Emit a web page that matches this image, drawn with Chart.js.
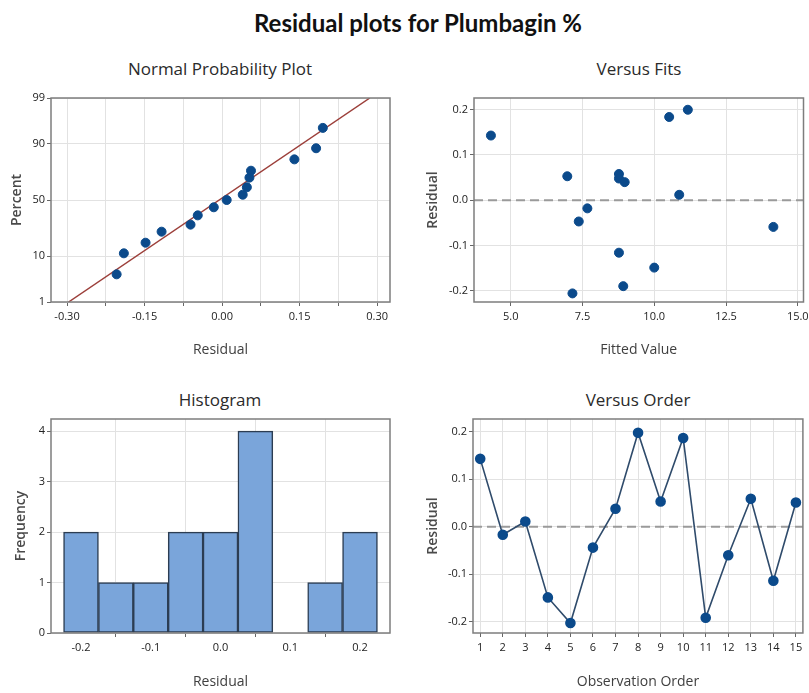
<!DOCTYPE html>
<html><head><meta charset="utf-8">
<script src="https://cdn.jsdelivr.net/npm/chart.js@4"></script>
<style>
body{margin:0;background:#fff;width:809px;height:693px;position:relative;overflow:hidden;font-family:'Open Sans',sans-serif}
canvas{position:absolute}
.t{position:absolute;white-space:nowrap;transform:translateX(-50%);color:#2a2a2a}
#main{left:418px;top:5px;font-family:Lato,sans-serif;font-weight:bold;font-size:24px;line-height:36px;color:#111}
.pt{font-size:17px;line-height:24px}
</style></head><body>
<div id="main" class="t">Residual plots for Plumbagin %</div>
<div class="t pt" style="left:220px;top:57px">Normal Probability Plot</div>
<div class="t pt" style="left:639px;top:57px">Versus Fits</div>
<div class="t pt" style="left:220px;top:388px">Histogram</div>
<div class="t pt" style="left:638px;top:388px">Versus Order</div>
<canvas id="c1" width="400" height="310" style="left:0;top:55px"></canvas>
<canvas id="c2" width="409" height="310" style="left:400px;top:55px"></canvas>
<canvas id="c3" width="400" height="328" style="left:0;top:365px"></canvas>
<canvas id="c4" width="409" height="328" style="left:400px;top:365px"></canvas>
<script>
// ---------- data ----------
const nppResidual = [-0.204,-0.190,-0.148,-0.117,-0.061,-0.047,-0.016,0.009,0.040,0.048,0.053,0.056,0.140,0.182,0.195];
const nppPercent  = [4.5,11.2,16.5,23.5,28.7,36.3,43.4,50.0,54.8,61.4,69.5,74.8,82.3,88.1,95.0];
const fitLineResidual = [-0.297, 0.286];
const fitLinePercent  = [1, 99];
const nppXTicks  = [-0.30,-0.225,-0.15,-0.075,0,0.075,0.15,0.225,0.30];
const nppXLabels = ['-0.30','','-0.15','','0.00','','0.15','','0.30'];
const nppYTickPercent = [1,10,50,90,99];
const nppYLabels = ['1','10','50','90','99'];

const fittedValues = [4.31,6.97,7.37,7.67,8.77,8.77,8.97,8.77,7.15,8.92,10.00,10.52,11.17,10.87,14.15];
const fitsResidual = [0.143,0.053,-0.047,-0.018,0.058,0.048,0.040,-0.116,-0.206,-0.190,-0.149,0.184,0.200,0.012,-0.059];
const fitsXTicks  = [5,7.5,10,12.5,15];
const fitsXLabels = ['5.0','7.5','10.0','12.5','15.0'];
const residTicks  = [-0.2,-0.1,0,0.1,0.2];
const residLabels = ['-0.2','-0.1','0.0','0.1','0.2'];

const histBinCenters = [-0.20,-0.15,-0.10,-0.05,0.00,0.05,0.10,0.15,0.20];
const histCounts     = [2,1,1,2,2,4,0,1,2];
const histXTicks  = [-0.2,-0.1,0,0.1,0.2];
const histXLabels = ['-0.2','-0.1','0.0','0.1','0.2'];
const histYTicks  = [0,1,2,3,4];
const histYLabels = ['0','1','2','3','4'];

const observationOrder = [1,2,3,4,5,6,7,8,9,10,11,12,13,14,15];
const orderResidual = [0.143,-0.017,0.011,-0.149,-0.203,-0.044,0.038,0.198,0.053,0.187,-0.192,-0.060,0.059,-0.114,0.051];
const orderXLabels = ['1','2','3','4','5','6','7','8','9','10','11','12','13','14','15'];

// ---------- helpers ----------
function probit(p){
  const a=[-3.969683028665376e+01,2.209460984245205e+02,-2.759285104469687e+02,1.383577518672690e+02,-3.066479806614716e+01,2.506628277459239e+00];
  const b=[-5.447609879822406e+01,1.615858368580409e+02,-1.556989798598866e+02,6.680131188771972e+01,-1.328068155288572e+01];
  const c=[-7.784894002430293e-03,-3.223964580411365e-01,-2.400758277161838e+00,-2.549732539343734e+00,4.374664141464968e+00,2.938163982698783e+00];
  const d=[7.784695709041462e-03,3.224671290700398e-01,2.445134137142996e+00,3.754408661907416e+00];
  const pl=0.02425; let q,r;
  if(p<pl){q=Math.sqrt(-2*Math.log(p));return (((((c[0]*q+c[1])*q+c[2])*q+c[3])*q+c[4])*q+c[5])/((((d[0]*q+d[1])*q+d[2])*q+d[3])*q+1);}
  if(p<=1-pl){q=p-0.5;r=q*q;return (((((a[0]*r+a[1])*r+a[2])*r+a[3])*r+a[4])*r+a[5])*q/(((((b[0]*r+b[1])*r+b[2])*r+b[3])*r+b[4])*r+1);}
  q=Math.sqrt(-2*Math.log(1-p));return -(((((c[0]*q+c[1])*q+c[2])*q+c[3])*q+c[4])*q+c[5])/((((d[0]*q+d[1])*q+d[2])*q+d[3])*q+1);
}
const pz = pct => probit(pct/100);

Chart.defaults.font.family = "'Open Sans', sans-serif";
Chart.defaults.color = '#333';
Chart.defaults.animation = false;
const GRID = '#e2e2e2', TICKC = '#666', MARK = '#0b4a8b';

const frame = {id:'frame', afterDatasetsDraw(chart){
  const {ctx, chartArea:a} = chart;
  ctx.save(); ctx.strokeStyle='#7d7d7d'; ctx.lineWidth=1.5;
  ctx.strokeRect(a.left, a.top, a.right-a.left, a.bottom-a.top); ctx.restore();
}};
const zeroLine = {id:'zeroLine', beforeDatasetsDraw(chart){
  const {ctx, chartArea:a, scales} = chart;
  const y = scales.y.getPixelForValue(0);
  ctx.save(); ctx.strokeStyle='#9a9a9a'; ctx.lineWidth=2; ctx.setLineDash([9,5]);
  ctx.beginPath(); ctx.moveTo(a.left,y); ctx.lineTo(a.right,y); ctx.stroke(); ctx.restore();
}};

function xScale(o){
  return {type:'linear', min:o.min, max:o.max, bounds:'data',
    afterBuildTicks:s=>{ s.ticks = o.ticks.map(v=>({value:v})); },
    afterFit:s=>{ s.height=o.height; s.paddingLeft=0; s.paddingRight=0; },
    ticks:{callback:(v,i)=>o.labels[i], font:{size:11}, color:'#222', padding:4, maxRotation:0, autoSkip:false},
    grid:{color:GRID, tickColor:TICKC, tickLength:4, lineWidth:1},
    border:{display:false},
    title:{display:true, text:o.title, font:{size:14}, color:'#404040', padding:{top:0,bottom:o.tpad}}
  };
}
function yScale(o){
  return {type:'linear', min:o.min, max:o.max, bounds:'data',
    afterBuildTicks:s=>{ s.ticks = o.ticks.map(v=>({value:v})); },
    afterFit:s=>{ s.width=o.width; s.paddingTop=0; s.paddingBottom=0; },
    ticks:{callback:(v,i)=>o.labels[i], font:{size:11}, color:'#222', padding:2, autoSkip:false},
    grid:{color:GRID, tickColor:TICKC, tickLength:4, lineWidth:1},
    border:{display:false},
    title:{display:true, text:o.title, font:{size:14, weight:'600'}, color:'#4a4a4a', padding:{top:o.tpad,bottom:0}}
  };
}
const basePlugins = {legend:{display:false}, tooltip:{enabled:false}};

// ---------- Normal probability plot ----------
new Chart(document.getElementById('c1'), {
  type:'scatter',
  data:{datasets:[
    {type:'scatter', data:nppResidual.map((r,i)=>({x:r, y:pz(nppPercent[i])})), pointRadius:4.5, pointBackgroundColor:MARK, pointBorderColor:MARK, order:0},
    {type:'line', data:fitLineResidual.map((r,i)=>({x:r, y:pz(fitLinePercent[i])})), borderColor:'#9c3f3a', borderWidth:1.5, pointRadius:0, order:1}
  ]},
  options:{responsive:false, layout:{padding:{top:43,right:10,left:0,bottom:0}}, plugins:basePlugins,
    scales:{
      x: xScale({min:-0.331,max:0.325,ticks:nppXTicks,labels:nppXLabels,title:'Residual',height:63,tpad:6.6}),
      y: yScale({min:pz(1),max:pz(99),ticks:nppYTickPercent.map(pz),labels:nppYLabels,title:'Percent',width:51,tpad:8.3})
    }},
  plugins:[frame]
});

// ---------- Versus fits ----------
new Chart(document.getElementById('c2'), {
  type:'scatter',
  data:{datasets:[
    {data:fittedValues.map((f,i)=>({x:f, y:fitsResidual[i]})), pointRadius:4.5, pointBackgroundColor:MARK, pointBorderColor:MARK}
  ]},
  options:{responsive:false, layout:{padding:{top:43,right:3,left:0,bottom:0}}, plugins:basePlugins,
    scales:{
      x: xScale({min:3.72,max:15.2,ticks:fitsXTicks,labels:fitsXLabels,title:'Fitted Value',height:63,tpad:6.6}),
      y: yScale({min:-0.225,max:0.226,ticks:residTicks,labels:residLabels,title:'Residual',width:74,tpad:24.6})
    }},
  plugins:[zeroLine, frame]
});

// ---------- Histogram ----------
new Chart(document.getElementById('c3'), {
  type:'bar',
  data:{datasets:[
    {data:histBinCenters.map((c,i)=>({x:c, y:histCounts[i]})), backgroundColor:'#7aa5da', borderColor:'#2c3d52', borderWidth:1.5, borderSkipped:false, barPercentage:1, categoryPercentage:1}
  ]},
  options:{responsive:false, layout:{padding:{top:54,right:10,left:0,bottom:0}}, plugins:basePlugins,
    scales:{
      x: Object.assign(xScale({min:-0.243,max:0.243,ticks:histXTicks,labels:histXLabels,title:'Residual',height:60,tpad:2.6}), {offset:false}),
      y: yScale({min:0,max:4.24,ticks:histYTicks,labels:histYLabels,title:'Frequency',width:51,tpad:13})
    }},
  plugins:[frame]
});

// ---------- Versus order ----------
new Chart(document.getElementById('c4'), {
  type:'line',
  data:{datasets:[
    {data:observationOrder.map((o,i)=>({x:o, y:orderResidual[i]})), borderColor:'#2f4b6b', borderWidth:1.6, pointRadius:4.5, pointBackgroundColor:MARK, pointBorderColor:MARK, tension:0}
  ]},
  options:{responsive:false, layout:{padding:{top:54,right:3,left:0,bottom:0}}, plugins:basePlugins,
    scales:{
      x: xScale({min:0.68,max:15.31,ticks:observationOrder,labels:orderXLabels,title:'Observation Order',height:60,tpad:2.6}),
      y: yScale({min:-0.224,max:0.227,ticks:residTicks,labels:residLabels,title:'Residual',width:73,tpad:24.6})
    }},
  plugins:[zeroLine, frame]
});
</script>
</body></html>
